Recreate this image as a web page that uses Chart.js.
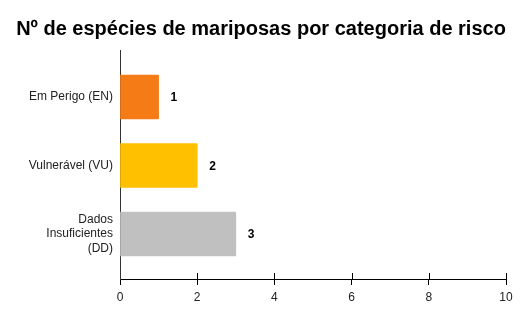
<!DOCTYPE html>
<html>
<head>
<meta charset="utf-8">
<script src="https://cdn.jsdelivr.net/npm/chart.js@4"></script>
<style>
html,body{margin:0;padding:0;background:#fff;}
#wrap{width:522px;height:322px;position:relative;}
</style>
</head>
<body>
<div id="wrap"><canvas id="c" width="522" height="322"></canvas></div>
<script>
const titleText = "Nº de espécies de mariposas por categoria de risco";
const categories = [["Em Perigo (EN)"], ["Vulnerável (VU)"], ["Dados", "Insuficientes", "(DD)"]];
const values = [1, 2, 3];
const barColors = ["#F57B17", "#FFC000", "#C0C0C0"];
const xTicks = [0, 2, 4, 6, 8, 10];

const FONT = "'Liberation Sans', Arial, sans-serif";

const titleDraw = {
  id: 'titleDraw',
  afterDraw(chart) {
    const ctx = chart.ctx;
    ctx.save();
    ctx.font = "bold 20px " + FONT;
    ctx.fillStyle = '#000';
    ctx.textAlign = 'center';
    ctx.textBaseline = 'alphabetic';
    ctx.fillText(titleText, 261, 35);
    ctx.restore();
  }
};

const tickUp = {
  id: 'tickUp',
  afterDraw(chart) {
    const ctx = chart.ctx, xs = chart.scales.x, b = chart.chartArea.bottom;
    ctx.save();
    ctx.strokeStyle = '#000';
    ctx.lineWidth = 1;
    xTicks.forEach(v => {
      if (v === 0) return;
      const px = Math.round(xs.getPixelForValue(v)) + 0.5;
      ctx.beginPath();
      ctx.moveTo(px, b - 6);
      ctx.lineTo(px, b);
      ctx.stroke();
    });
    ctx.restore();
  }
};

const valueLabels = {
  id: 'valueLabels',
  afterDatasetsDraw(chart) {
    const ctx = chart.ctx;
    const meta = chart.getDatasetMeta(0);
    ctx.save();
    ctx.font = "bold 12px " + FONT;
    ctx.fillStyle = '#000';
    ctx.textAlign = 'left';
    ctx.textBaseline = 'middle';
    meta.data.forEach((bar, i) => {
      ctx.fillText(String(values[i]), bar.x + 12, bar.y + 1);
    });
    ctx.restore();
  }
};

new Chart(document.getElementById('c'), {
  type: 'bar',
  data: {
    datasets: [{
      data: values.map((v, i) => ({ x: v, y: i })),
      backgroundColor: barColors,
      barThickness: 44,
      borderRadius: 1,
      borderSkipped: 'start'
    }]
  },
  options: {
    indexAxis: 'y',
    responsive: false,
    animation: false,
    layout: { padding: { left: 0, right: 16, top: 50, bottom: 0 } },
    plugins: {
      legend: { display: false },
      tooltip: { enabled: false },
      title: { display: false }
    },
    scales: {
      x: {
        type: 'linear',
        min: 0, max: 10,
        afterBuildTicks: s => { s.ticks = xTicks.map(v => ({ value: v })); },
        afterFit: s => { s.height = 43; },
        grid: { display: true, drawOnChartArea: false, drawTicks: true, tickLength: 6, color: '#000', lineWidth: 1 },
        border: { display: true, color: '#000', width: 1 },
        ticks: { color: '#222', font: { family: FONT, size: 12 }, padding: 5, maxRotation: 0 }
      },
      y: {
        type: 'linear',
        reverse: true,
        offset: false,
        min: -0.686, max: 2.657,
        afterBuildTicks: s => { s.ticks = categories.map((c, i) => ({ value: i })); },
        afterFit: s => { s.width = 120; },
        grid: { display: false, drawTicks: false },
        border: { display: true, color: '#333', width: 1 },
        ticks: {
          color: '#222',
          font: { family: FONT, size: 12, lineHeight: 1.2 },
          padding: 7,
          callback: v => categories[v]
        }
      }
    }
  },
  plugins: [titleDraw, tickUp, valueLabels]
});
</script>
</body>
</html>
